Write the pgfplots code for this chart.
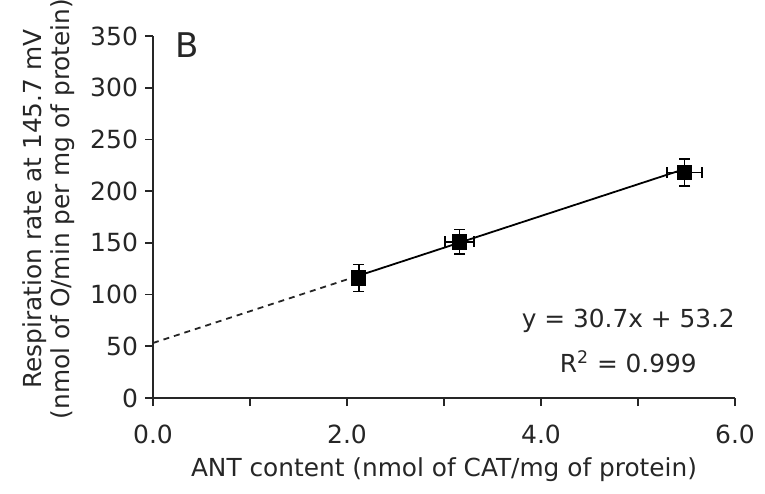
\documentclass[border=0pt]{standalone}
\usepackage{pgfplots}
\pgfplotsset{compat=1.18}
\usepackage{fontspec}
\setmainfont{DejaVu Sans}
\definecolor{txt}{HTML}{262626}

\begin{document}
\begin{tikzpicture}
\begin{axis}[
  name=ax,
  scale only axis, width=291pt, height=181pt,
  xmin=0, xmax=6, ymin=0, ymax=350,
  axis lines=left, axis line style={-, line width=0.9pt, txt},
  xtick={0,1,...,6}, xticklabels={0.0,,2.0,,4.0,,6.0},
  ytick={0,50,...,350},
  tick align=outside, major tick length=4pt,
  tick style={line width=0.9pt, txt},
  font=\fontsize{12.4}{14}\selectfont,
  ticklabel style={font=\fontsize{12.5}{14}\selectfont, text=txt},
  xticklabel style={yshift=-6pt},
  /pgf/number format/assume math mode=true,
  xlabel={ANT content (nmol of CAT/mg of protein)},
  xlabel style={at={(axis description cs:0.5,-0.199)}, anchor=center, text=txt},
  ylabel={Respiration rate at 145.7 mV\\(nmol of O/min per mg of protein)},
  ylabel style={at={(axis description cs:-0.179,0.522)}, anchor=center, align=center, text=txt},
  clip=false,
]
% fitted line, extrapolated part dashed
\addplot[black!85, line width=0.9pt, dash pattern=on 3pt off 2.5pt] coordinates {(0,53.2) (2.12,118.3)};
\addplot[black, line width=0.9pt] coordinates {(2.12,118.3) (5.48,221.4)};
% measured points
\addplot[only marks, mark=square*, mark size=3.6pt, black,
  error bars/.cd, x dir=both, x explicit, y dir=both, y explicit,
  error bar style={line width=0.9pt, black},
  error mark options={rotate=90, mark size=2.75pt, line width=0.9pt, black}]
  coordinates {
    (2.12,116) +- (0.06,13)
    (3.16,151) +- (0.15,12)
    (5.48,218) +- (0.18,13)
  };
\node[font=\fontsize{17}{18}\selectfont, text=txt] at (axis cs:0.35,341) {B};
\node[text=txt] at (axis cs:4.9,75) {y = 30.7x + 53.2};
\node[text=txt] at (axis cs:4.9,35) {R\textsuperscript{2} = 0.999};
\end{axis}
\pgfresetboundingbox
\path[use as bounding box] ([xshift=-76.5pt,yshift=-47.5pt]ax.south west) rectangle ([xshift=15pt,yshift=18pt]ax.north east);
\end{tikzpicture}
\end{document}
